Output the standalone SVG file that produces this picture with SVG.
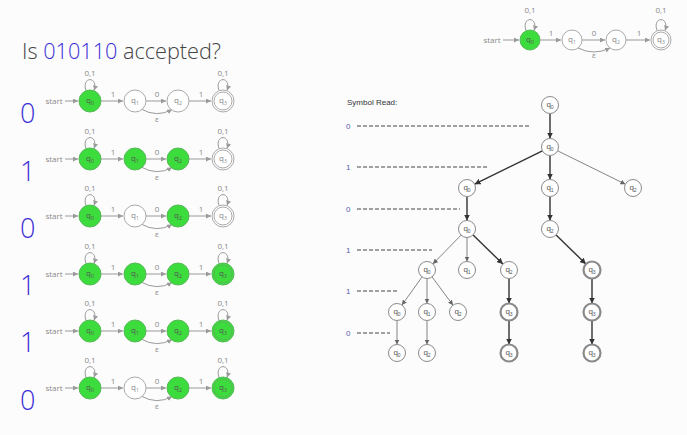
<svg xmlns="http://www.w3.org/2000/svg" width="687" height="435" viewBox="0 0 687 435">
<defs>
<marker id="ah" viewBox="0 0 10 10" refX="10" refY="5" markerWidth="5" markerHeight="5" orient="auto" markerUnits="userSpaceOnUse"><path d="M0,0 L10,5 L0,10 z" fill="#9a9a9a"/></marker>
<marker id="tb" viewBox="0 0 10 10" refX="10" refY="5" markerWidth="6" markerHeight="6" orient="auto" markerUnits="userSpaceOnUse"><path d="M0,0 L10,5 L0,10 z" fill="#333"/></marker>
<marker id="tt" viewBox="0 0 10 10" refX="10" refY="5" markerWidth="5" markerHeight="5" orient="auto" markerUnits="userSpaceOnUse"><path d="M0,0 L10,5 L0,10 z" fill="#666"/></marker>
</defs>
<style>
.off{fill:#fff;stroke:#aaa;stroke-width:1}
.on{fill:#3ddc3d;stroke:#58b858;stroke-width:1}
.ed{fill:none;stroke:#9a9a9a;stroke-width:1;marker-end:url(#ah)}
.lb{font-family:"Open Sans","DejaVu Sans",sans-serif;font-size:8px;fill:#888;text-anchor:middle}
.qt{font-family:"Open Sans","DejaVu Sans",sans-serif;font-size:8px;fill:#888;text-anchor:middle}
.on+.qt{fill:#555}
.sub{font-size:5px}
.dig{font-family:"Open Sans","DejaVu Sans",sans-serif;font-size:27px;font-weight:300;fill:#3b2fd6}
.tn{fill:#fff;stroke:#8a8a8a;stroke-width:1}
.tn3{fill:#fff;stroke:#8a8a8a;stroke-width:2.2}
.tq{font-family:"Liberation Sans",Arial,sans-serif;font-size:8px;fill:#555;text-anchor:middle}
.tb{stroke:#333;stroke-width:1.4;marker-end:url(#tb)}
.tt{stroke:#666;stroke-width:0.8;marker-end:url(#tt)}
.ds{stroke:#444;stroke-width:1;stroke-dasharray:4 2}
.sl{font-family:"Liberation Sans",Arial,sans-serif;font-size:8px;fill:#5560b0}
</style>
<rect width="687" height="435" fill="#fcfcfd"/>

<text x="22" y="59" font-family="'Open Sans','DejaVu Sans',sans-serif" font-size="22.5" font-weight="300" fill="#444" textLength="199" lengthAdjust="spacingAndGlyphs">Is <tspan fill="#3b2fd6">010110</tspan> accepted?</text>

<!-- top right NFA -->
<g id="top-nfa">
<text class="lb" x="492" y="43">start</text>
<path class="ed" d="M503,40 L519,40"/>
<path class="ed" d="M526,30.5 C521,16 539,16 534,30.5"/>
<text class="lb" x="530" y="13">0,1</text>
<path class="ed" d="M540,40 L561,40"/><text class="lb" x="551" y="36">1</text>
<path class="ed" d="M582,40 L605,40"/><text class="lb" x="594" y="36">0</text>
<path class="ed" d="M578,48 Q594,56 610,48"/><text class="lb" x="594" y="58">ε</text>
<path class="ed" d="M626,40 L650,40"/><text class="lb" x="639" y="36">1</text>
<path class="ed" d="M657,30.5 C652,16 670,16 665,30.5"/>
<text class="lb" x="661" y="13">0,1</text>
<g id="top-q0"><circle class="on" cx="530" cy="40" r="10"/><text class="qt" x="530" y="42">q<tspan class="sub" dy="1.5">0</tspan></text></g>
<g id="top-q1"><circle class="off" cx="572" cy="40" r="10"/><text class="qt" x="572" y="42">q<tspan class="sub" dy="1.5">1</tspan></text></g>
<g id="top-q2"><circle class="off" cx="616" cy="40" r="10"/><text class="qt" x="616" y="42">q<tspan class="sub" dy="1.5">2</tspan></text></g>
<g id="top-q3"><circle class="off" cx="661" cy="40" r="10"/><circle fill="none" stroke="#aaa" cx="661" cy="40" r="8"/><text class="qt" x="661" y="42">q<tspan class="sub" dy="1.5">3</tspan></text></g>
</g>

<!-- rows -->
<g id="row1">
<text class="dig" x="20" y="123">0</text>
<text class="lb" x="54" y="104">start</text>
<path class="ed" d="M65,101 L78,101"/>
<path class="ed" d="M86,90.5 C81,76 99,76 94,90.5"/><text class="lb" x="90" y="76">0,1</text>
<path class="ed" d="M101,101 L123,101"/><text class="lb" x="113" y="97">1</text>
<path class="ed" d="M146,101 L166,101"/><text class="lb" x="157" y="97">0</text>
<path class="ed" d="M141,109 Q157,118 172,109.5"/><text class="lb" x="157" y="122">ε</text>
<path class="ed" d="M189,101 L211,101"/><text class="lb" x="201" y="97">1</text>
<path class="ed" d="M219,90.5 C214,76 232,76 227,90.5"/><text class="lb" x="223" y="76">0,1</text>
<g id="r1-q0"><circle class="on" cx="90" cy="101" r="11"/><text class="qt" x="90" y="103">q<tspan class="sub" dy="1.5">0</tspan></text></g>
<g id="r1-q1"><circle class="off" cx="135" cy="101" r="11"/><text class="qt" x="135" y="103">q<tspan class="sub" dy="1.5">1</tspan></text></g>
<g id="r1-q2"><circle class="off" cx="178" cy="101" r="11"/><text class="qt" x="178" y="103">q<tspan class="sub" dy="1.5">2</tspan></text></g>
<g id="r1-q3"><circle class="off" cx="223" cy="101" r="11"/><circle fill="none" stroke="#aaa" cx="223" cy="101" r="9"/><text class="qt" x="223" y="103">q<tspan class="sub" dy="1.5">3</tspan></text></g>
</g>

<g id="row2">
<text class="dig" x="20" y="181">1</text>
<text class="lb" x="54" y="162">start</text>
<path class="ed" d="M65,159 L78,159"/>
<path class="ed" d="M86,148.5 C81,134 99,134 94,148.5"/><text class="lb" x="90" y="134">0,1</text>
<path class="ed" d="M101,159 L123,159"/><text class="lb" x="113" y="155">1</text>
<path class="ed" d="M146,159 L166,159"/><text class="lb" x="157" y="155">0</text>
<path class="ed" d="M141,167 Q157,176 172,167.5"/><text class="lb" x="157" y="180">ε</text>
<path class="ed" d="M189,159 L211,159"/><text class="lb" x="201" y="155">1</text>
<path class="ed" d="M219,148.5 C214,134 232,134 227,148.5"/><text class="lb" x="223" y="134">0,1</text>
<g id="r2-q0"><circle class="on" cx="90" cy="159" r="11"/><text class="qt" x="90" y="161">q<tspan class="sub" dy="1.5">0</tspan></text></g>
<g id="r2-q1"><circle class="on" cx="135" cy="159" r="11"/><text class="qt" x="135" y="161">q<tspan class="sub" dy="1.5">1</tspan></text></g>
<g id="r2-q2"><circle class="on" cx="178" cy="159" r="11"/><text class="qt" x="178" y="161">q<tspan class="sub" dy="1.5">2</tspan></text></g>
<g id="r2-q3"><circle class="off" cx="223" cy="159" r="11"/><circle fill="none" stroke="#aaa" cx="223" cy="159" r="9"/><text class="qt" x="223" y="161">q<tspan class="sub" dy="1.5">3</tspan></text></g>
</g>

<g id="row3">
<text class="dig" x="20" y="238">0</text>
<text class="lb" x="54" y="219">start</text>
<path class="ed" d="M65,216 L78,216"/>
<path class="ed" d="M86,205.5 C81,191 99,191 94,205.5"/><text class="lb" x="90" y="191">0,1</text>
<path class="ed" d="M101,216 L123,216"/><text class="lb" x="113" y="212">1</text>
<path class="ed" d="M146,216 L166,216"/><text class="lb" x="157" y="212">0</text>
<path class="ed" d="M141,224 Q157,233 172,224.5"/><text class="lb" x="157" y="237">ε</text>
<path class="ed" d="M189,216 L211,216"/><text class="lb" x="201" y="212">1</text>
<path class="ed" d="M219,205.5 C214,191 232,191 227,205.5"/><text class="lb" x="223" y="191">0,1</text>
<g id="r3-q0"><circle class="on" cx="90" cy="216" r="11"/><text class="qt" x="90" y="218">q<tspan class="sub" dy="1.5">0</tspan></text></g>
<g id="r3-q1"><circle class="off" cx="135" cy="216" r="11"/><text class="qt" x="135" y="218">q<tspan class="sub" dy="1.5">1</tspan></text></g>
<g id="r3-q2"><circle class="on" cx="178" cy="216" r="11"/><text class="qt" x="178" y="218">q<tspan class="sub" dy="1.5">2</tspan></text></g>
<g id="r3-q3"><circle class="off" cx="223" cy="216" r="11"/><circle fill="none" stroke="#aaa" cx="223" cy="216" r="9"/><text class="qt" x="223" y="218">q<tspan class="sub" dy="1.5">3</tspan></text></g>
</g>

<g id="row4">
<text class="dig" x="20" y="295">1</text>
<text class="lb" x="54" y="277">start</text>
<path class="ed" d="M65,274 L78,274"/>
<path class="ed" d="M86,263.5 C81,249 99,249 94,263.5"/><text class="lb" x="90" y="249">0,1</text>
<path class="ed" d="M101,274 L123,274"/><text class="lb" x="113" y="270">1</text>
<path class="ed" d="M146,274 L166,274"/><text class="lb" x="157" y="270">0</text>
<path class="ed" d="M141,282 Q157,291 172,282.5"/><text class="lb" x="157" y="295">ε</text>
<path class="ed" d="M189,274 L211,274"/><text class="lb" x="201" y="270">1</text>
<path class="ed" d="M219,263.5 C214,249 232,249 227,263.5"/><text class="lb" x="223" y="249">0,1</text>
<g id="r4-q0"><circle class="on" cx="90" cy="274" r="11"/><text class="qt" x="90" y="276">q<tspan class="sub" dy="1.5">0</tspan></text></g>
<g id="r4-q1"><circle class="on" cx="135" cy="274" r="11"/><text class="qt" x="135" y="276">q<tspan class="sub" dy="1.5">1</tspan></text></g>
<g id="r4-q2"><circle class="on" cx="178" cy="274" r="11"/><text class="qt" x="178" y="276">q<tspan class="sub" dy="1.5">2</tspan></text></g>
<g id="r4-q3"><circle class="on" cx="223" cy="274" r="11"/><circle fill="none" stroke="#58b858" cx="223" cy="274" r="9"/><text class="qt" x="223" y="276" style="fill:#555">q<tspan class="sub" dy="1.5">3</tspan></text></g>
</g>

<g id="row5">
<text class="dig" x="20" y="352">1</text>
<text class="lb" x="54" y="334">start</text>
<path class="ed" d="M65,331 L78,331"/>
<path class="ed" d="M86,320.5 C81,306 99,306 94,320.5"/><text class="lb" x="90" y="306">0,1</text>
<path class="ed" d="M101,331 L123,331"/><text class="lb" x="113" y="327">1</text>
<path class="ed" d="M146,331 L166,331"/><text class="lb" x="157" y="327">0</text>
<path class="ed" d="M141,339 Q157,348 172,339.5"/><text class="lb" x="157" y="352">ε</text>
<path class="ed" d="M189,331 L211,331"/><text class="lb" x="201" y="327">1</text>
<path class="ed" d="M219,320.5 C214,306 232,306 227,320.5"/><text class="lb" x="223" y="306">0,1</text>
<g id="r5-q0"><circle class="on" cx="90" cy="331" r="11"/><text class="qt" x="90" y="333">q<tspan class="sub" dy="1.5">0</tspan></text></g>
<g id="r5-q1"><circle class="on" cx="135" cy="331" r="11"/><text class="qt" x="135" y="333">q<tspan class="sub" dy="1.5">1</tspan></text></g>
<g id="r5-q2"><circle class="on" cx="178" cy="331" r="11"/><text class="qt" x="178" y="333">q<tspan class="sub" dy="1.5">2</tspan></text></g>
<g id="r5-q3"><circle class="on" cx="223" cy="331" r="11"/><circle fill="none" stroke="#58b858" cx="223" cy="331" r="9"/><text class="qt" x="223" y="333" style="fill:#555">q<tspan class="sub" dy="1.5">3</tspan></text></g>
</g>

<g id="row6">
<text class="dig" x="20" y="410">0</text>
<text class="lb" x="54" y="391">start</text>
<path class="ed" d="M65,388 L78,388"/>
<path class="ed" d="M86,377.5 C81,363 99,363 94,377.5"/><text class="lb" x="90" y="363">0,1</text>
<path class="ed" d="M101,388 L123,388"/><text class="lb" x="113" y="384">1</text>
<path class="ed" d="M146,388 L166,388"/><text class="lb" x="157" y="384">0</text>
<path class="ed" d="M141,396 Q157,405 172,396.5"/><text class="lb" x="157" y="409">ε</text>
<path class="ed" d="M189,388 L211,388"/><text class="lb" x="201" y="384">1</text>
<path class="ed" d="M219,377.5 C214,363 232,363 227,377.5"/><text class="lb" x="223" y="363">0,1</text>
<g id="r6-q0"><circle class="on" cx="90" cy="388" r="11"/><text class="qt" x="90" y="390">q<tspan class="sub" dy="1.5">0</tspan></text></g>
<g id="r6-q1"><circle class="off" cx="135" cy="388" r="11"/><text class="qt" x="135" y="390">q<tspan class="sub" dy="1.5">1</tspan></text></g>
<g id="r6-q2"><circle class="on" cx="178" cy="388" r="11"/><text class="qt" x="178" y="390">q<tspan class="sub" dy="1.5">2</tspan></text></g>
<g id="r6-q3"><circle class="on" cx="223" cy="388" r="11"/><circle fill="none" stroke="#58b858" cx="223" cy="388" r="9"/><text class="qt" x="223" y="390" style="fill:#555">q<tspan class="sub" dy="1.5">3</tspan></text></g>
</g>

<!-- symbol read -->
<g id="symbols">
<text class="sl" x="347" y="105" style="fill:#333">Symbol Read:</text>
<text class="sl" x="346" y="129">0</text><line class="ds" x1="357" y1="126" x2="530" y2="126"/>
<text class="sl" x="346" y="170">1</text><line class="ds" x1="357" y1="167" x2="487" y2="167"/>
<text class="sl" x="346" y="212">0</text><line class="ds" x1="357" y1="209" x2="460" y2="209"/>
<text class="sl" x="346" y="253">1</text><line class="ds" x1="357" y1="250" x2="432" y2="250"/>
<text class="sl" x="346" y="294">1</text><line class="ds" x1="357" y1="291" x2="397" y2="291"/>
<text class="sl" x="346" y="336">0</text><line class="ds" x1="357" y1="333" x2="390" y2="333"/>
</g>

<g id="tree-edges">
<line class="tb" x1="550" y1="114" x2="550" y2="138.5"/>
<line class="tb" x1="542.4" y1="150.8" x2="474.6" y2="184.2"/>
<line class="tb" x1="550" y1="156" x2="550" y2="179.5"/>
<line class="tt" x1="557.6" y1="150.8" x2="625.4" y2="184.2"/>
<line class="tb" x1="467" y1="197" x2="467" y2="220.5"/>
<line class="tb" x1="550" y1="197" x2="550" y2="220.5"/>
<line class="tt" x1="461.1" y1="235.1" x2="432.9" y2="263.9"/>
<line class="tt" x1="467" y1="238" x2="467" y2="261.5"/>
<line class="tb" x1="473.1" y1="234.9" x2="502.9" y2="264.1"/>
<line class="tb" x1="556.1" y1="234.9" x2="585.9" y2="264.1"/>
<line class="tt" x1="422.1" y1="276.9" x2="401.9" y2="305.1"/>
<line class="tt" x1="427" y1="279" x2="427" y2="303.5"/>
<line class="tt" x1="432" y1="276.8" x2="453" y2="305.2"/>
<line class="tb" x1="509" y1="279" x2="509" y2="303.5"/>
<line class="tb" x1="592" y1="279" x2="592" y2="303.5"/>
<line class="tt" x1="397" y1="321" x2="397" y2="344.5"/>
<line class="tt" x1="427" y1="321" x2="427" y2="344.5"/>
<line class="tb" x1="509" y1="321" x2="509" y2="344.5"/>
<line class="tb" x1="592" y1="321" x2="592" y2="344.5"/>
</g>

<g id="t0-q0"><circle class="tn" cx="550" cy="105" r="8.5"/><text class="tq" x="550" y="107">q<tspan class="sub" dy="1.5">0</tspan></text></g>
<g id="t1-q0"><circle class="tn" cx="550" cy="147" r="8.5"/><text class="tq" x="550" y="149">q<tspan class="sub" dy="1.5">0</tspan></text></g>
<g id="t2-q0"><circle class="tn" cx="467" cy="188" r="8.5"/><text class="tq" x="467" y="190">q<tspan class="sub" dy="1.5">0</tspan></text></g>
<g id="t2-q1"><circle class="tn" cx="550" cy="188" r="8.5"/><text class="tq" x="550" y="190">q<tspan class="sub" dy="1.5">1</tspan></text></g>
<g id="t2-q2"><circle class="tn" cx="633" cy="188" r="8.5"/><text class="tq" x="633" y="190">q<tspan class="sub" dy="1.5">2</tspan></text></g>
<g id="t3-q0"><circle class="tn" cx="467" cy="229" r="8.5"/><text class="tq" x="467" y="231">q<tspan class="sub" dy="1.5">0</tspan></text></g>
<g id="t3-q2"><circle class="tn" cx="550" cy="229" r="8.5"/><text class="tq" x="550" y="231">q<tspan class="sub" dy="1.5">2</tspan></text></g>
<g id="t4-q0"><circle class="tn" cx="427" cy="270" r="8.5"/><text class="tq" x="427" y="272">q<tspan class="sub" dy="1.5">0</tspan></text></g>
<g id="t4-q1"><circle class="tn" cx="467" cy="270" r="8.5"/><text class="tq" x="467" y="272">q<tspan class="sub" dy="1.5">1</tspan></text></g>
<g id="t4-q2"><circle class="tn" cx="509" cy="270" r="8.5"/><text class="tq" x="509" y="272">q<tspan class="sub" dy="1.5">2</tspan></text></g>
<g id="t4-q3"><circle class="tn3" cx="592" cy="270" r="8.5"/><text class="tq" x="592" y="272">q<tspan class="sub" dy="1.5">3</tspan></text></g>
<g id="t5-q0"><circle class="tn" cx="397" cy="312" r="8.5"/><text class="tq" x="397" y="314">q<tspan class="sub" dy="1.5">0</tspan></text></g>
<g id="t5-q1"><circle class="tn" cx="427" cy="312" r="8.5"/><text class="tq" x="427" y="314">q<tspan class="sub" dy="1.5">1</tspan></text></g>
<g id="t5-q2"><circle class="tn" cx="458" cy="312" r="8.5"/><text class="tq" x="458" y="314">q<tspan class="sub" dy="1.5">2</tspan></text></g>
<g id="t5-q3a"><circle class="tn3" cx="509" cy="312" r="8.5"/><text class="tq" x="509" y="314">q<tspan class="sub" dy="1.5">3</tspan></text></g>
<g id="t5-q3b"><circle class="tn3" cx="592" cy="312" r="8.5"/><text class="tq" x="592" y="314">q<tspan class="sub" dy="1.5">3</tspan></text></g>
<g id="t6-q0"><circle class="tn" cx="397" cy="353" r="8.5"/><text class="tq" x="397" y="355">q<tspan class="sub" dy="1.5">0</tspan></text></g>
<g id="t6-q2"><circle class="tn" cx="427" cy="353" r="8.5"/><text class="tq" x="427" y="355">q<tspan class="sub" dy="1.5">2</tspan></text></g>
<g id="t6-q3a"><circle class="tn3" cx="509" cy="353" r="8.5"/><text class="tq" x="509" y="355">q<tspan class="sub" dy="1.5">3</tspan></text></g>
<g id="t6-q3b"><circle class="tn3" cx="592" cy="353" r="8.5"/><text class="tq" x="592" y="355">q<tspan class="sub" dy="1.5">3</tspan></text></g>
</svg>
